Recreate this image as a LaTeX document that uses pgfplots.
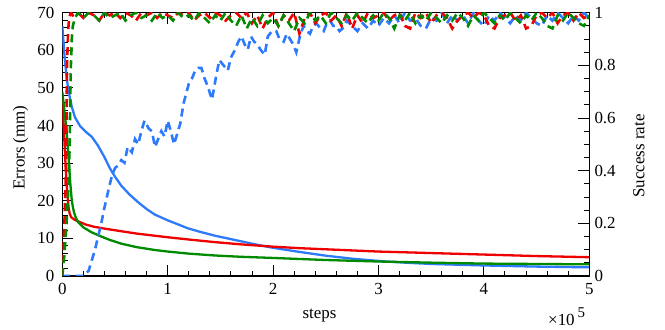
\documentclass[border=0pt]{standalone}
\usepackage{pgfplots}
\pgfplotsset{compat=1.18}
\usepackage{fontspec}
\setmainfont{Liberation Serif}
\definecolor{cblue}{RGB}{45,122,252}
\definecolor{cred}{RGB}{238,0,0}
\definecolor{cgreen}{RGB}{0,138,0}
\pgfplotsset{
  base/.style={
    scale only axis, width=527bp, height=263.3bp,
    xmin=0, xmax=5,
    /pgf/number format/assume math mode=true,
    tick label style={font=\fontsize{17}{20}\selectfont},
    label style={font=\fontsize{17}{20}\selectfont},
    major tick length=11bp, minor tick length=5.5bp,
    tick align=inside,
    every tick/.style={black, line width=1bp},
    axis line style={line width=1.3bp},
  }
}
\begin{document}
\begin{tikzpicture}
\begin{axis}[base,
  ymin=0, ymax=70,
  ytick={0,10,...,70}, minor y tick num=4,
  xtick={0,1,2,3,4,5}, minor x tick num=4,
  ytick pos=left, xtick pos=both,
  yticklabel style={xshift=-4.5bp},
  xticklabel style={yshift=-4bp},
  xlabel={steps}, ylabel={Errors (mm)},
  xlabel style={at={(axis description cs:0.488,-0.152)}, anchor=center},
  ylabel style={at={(axis description cs:-0.0793,0.488)}, anchor=center},
]
\addplot[cblue, line width=2.3bp] coordinates {(0,66.5)(0.02,59)(0.04,53)(0.06,49)(0.09,45)(0.12,42.2)(0.17,39.8)(0.22,38.4)(0.28,37)(0.34,34.6)(0.40,31.6)(0.45,28.7)(0.50,26.4)(0.56,24)(0.64,21.6)(0.72,19.6)(0.80,17.8)(0.88,16.3)(1.0,14.8)(1.1,13.7)(1.19,12.7)(1.3,11.8)(1.45,10.7)(1.6,9.8)(1.7,9.2)(1.85,8.3)(2.0,7.5)(2.25,6.4)(2.5,5.4)(2.75,4.6)(3.0,4.0)(3.25,3.55)(3.5,3.2)(4.0,2.8)(4.5,2.5)(5.0,2.3)};
\addplot[cred, line width=2.3bp] coordinates {(0,47)(0.01,42)(0.02,36)(0.03,30)(0.04,25)(0.05,21)(0.06,18.2)(0.07,16.6)(0.085,15.6)(0.12,14.9)(0.22,13.7)(0.3,13.1)(0.4,12.6)(0.56,11.9)(0.7,11.3)(0.88,10.7)(1.0,10.3)(1.2,9.7)(1.45,9.0)(1.7,8.4)(2.0,7.8)(2.25,7.4)(2.5,7.1)(3.0,6.5)(3.5,6.1)(4.0,5.7)(4.5,5.3)(5.0,5.0)};
\addplot[cgreen, line width=2.3bp] coordinates {(0,49)(0.02,44)(0.04,38.9)(0.063,30)(0.075,25)(0.089,20.4)(0.1,18.4)(0.11,17)(0.13,15.4)(0.15,14.3)(0.2,12.9)(0.28,11.6)(0.36,10.6)(0.45,9.6)(0.56,8.6)(0.7,7.7)(0.88,6.9)(1.0,6.5)(1.2,5.95)(1.45,5.45)(1.7,5.1)(2.0,4.8)(2.5,4.25)(3.0,3.85)(3.5,3.55)(4.0,3.3)(4.5,3.2)(5.0,3.1)};
\end{axis}
\begin{axis}[base,
  ymin=0, ymax=1,
  axis y line*=right, axis x line=none,
  y axis line style={-},
  ytick={0,0.2,...,1}, minor y tick num=3,
  yticklabel style={xshift=1.7bp},
  ylabel={Success rate},
  ylabel style={at={(axis description cs:1.094,0.456)}, anchor=center, rotate=0},
]
\addplot[cblue, line width=2.6bp, dash pattern=on 8bp off 5bp] coordinates {(0,0)(0.05,0)(0.1,0)(0.15,0)(0.2,0)(0.25,0.02)(0.28,0.06)(0.31,0.10)(0.34,0.15)(0.37,0.20)(0.40,0.26)(0.44,0.33)(0.47,0.38)(0.50,0.41)(0.53,0.42)(0.56,0.44)(0.59,0.43)(0.62,0.49)(0.66,0.47)(0.69,0.52)(0.72,0.50)(0.75,0.55)(0.78,0.59)(0.82,0.56)(0.85,0.55)(0.88,0.49)(0.91,0.52)(0.94,0.55)(0.97,0.53)(1.0,0.59)(1.03,0.55)(1.06,0.50)(1.09,0.54)(1.12,0.58)(1.15,0.655)(1.2,0.73)(1.23,0.75)(1.26,0.78)(1.29,0.79)(1.32,0.79)(1.35,0.75)(1.38,0.72)(1.42,0.67)(1.46,0.76)(1.49,0.82)(1.53,0.80)(1.57,0.78)(1.6,0.83)(1.64,0.86)(1.67,0.89)(1.70,0.91)(1.73,0.88)(1.76,0.86)(1.79,0.91)(1.82,0.89)(1.85,0.88)(1.88,0.86)(1.92,0.84)(1.95,0.91)(1.99,0.93)(2.03,0.93)(2.06,0.90)(2.10,0.89)(2.13,0.92)(2.16,0.90)(2.19,0.88)(2.22,0.85)(2.26,0.92)(2.29,0.95)(2.32,0.93)(2.35,0.92)(2.38,0.95)(2.41,0.96)(2.45,0.94)(2.48,0.93)(2.51,0.96)(2.54,0.97)(2.57,0.95)(2.6,0.95)(2.63,0.93)(2.66,0.94)(2.7,0.97)(2.75,0.95)(2.8,0.93)(2.85,0.96)(2.9,0.94)(2.95,0.97)(3.0,0.95)(3.05,0.98)(3.1,0.96)(3.15,0.99)(3.2,0.96)(3.25,1.0)(3.3,0.97)(3.35,0.98)(3.4,0.95)(3.45,0.94)(3.5,0.98)(3.55,0.97)(3.6,1.0)(3.65,0.96)(3.7,0.99)(3.75,0.97)(3.8,0.99)(3.85,0.96)(3.9,1.0)(3.95,0.97)(4.0,0.95)(4.05,0.99)(4.1,0.97)(4.15,1.0)(4.2,0.98)(4.25,0.96)(4.3,0.99)(4.35,0.97)(4.4,1.0)(4.45,0.98)(4.5,0.96)(4.55,0.95)(4.6,0.99)(4.65,0.97)(4.7,1.0)(4.75,0.98)(4.8,0.96)(4.85,0.99)(4.9,0.97)(4.95,1.0)(5.0,0.98)};
\addplot[cred, line width=2.6bp, dash pattern=on 8bp off 5bp] coordinates {(0,0)(0.01,0.12)(0.02,0.2)(0.035,0.4)(0.04,0.6)(0.045,0.8)(0.055,0.93)(0.065,0.98)(0.08,1.0)(0.1,0.99)(0.15,1.0)(0.2,0.98)(0.25,1.0)(0.3,0.99)(0.35,0.97)(0.4,1.0)(0.45,0.99)(0.5,1.0)(0.55,0.98)(0.6,1.0)(0.65,0.99)(0.7,0.97)(0.75,1.0)(0.8,0.99)(0.85,1.0)(0.9,0.98)(0.95,1.0)(1.0,0.99)(1.05,0.98)(1.1,1.0)(1.15,0.99)(1.2,1.0)(1.25,0.97)(1.3,0.99)(1.35,1.0)(1.4,0.98)(1.45,1.0)(1.5,0.99)(1.55,0.97)(1.6,0.99)(1.65,1.0)(1.7,0.98)(1.75,1.0)(1.8,0.96)(1.85,0.99)(1.9,0.94)(1.95,0.98)(2.0,1.0)(2.05,0.95)(2.1,0.99)(2.15,0.97)(2.2,1.0)(2.25,0.92)(2.3,0.98)(2.35,1.0)(2.4,0.96)(2.45,0.99)(2.5,1.0)(2.55,0.97)(2.6,0.99)(2.65,0.95)(2.7,1.0)(2.75,0.94)(2.8,0.99)(2.85,0.96)(2.9,1.0)(2.95,0.98)(3.0,0.99)(3.05,1.0)(3.1,0.97)(3.15,0.99)(3.2,1.0)(3.25,0.95)(3.3,0.94)(3.35,1.0)(3.4,0.98)(3.45,1.0)(3.5,0.96)(3.55,0.99)(3.6,1.0)(3.65,0.98)(3.7,0.94)(3.75,0.97)(3.8,0.99)(3.85,1.0)(3.9,0.98)(3.95,1.0)(4.0,0.99)(4.05,0.95)(4.1,0.94)(4.15,0.98)(4.2,0.99)(4.25,1.0)(4.3,0.97)(4.35,0.99)(4.4,0.94)(4.45,0.95)(4.5,0.99)(4.55,1.0)(4.6,0.98)(4.65,1.0)(4.7,0.96)(4.75,0.99)(4.8,1.0)(4.85,0.97)(4.9,1.0)(4.95,0.98)(5.0,0.99)};
\addplot[cgreen, line width=2.6bp, dash pattern=on 8bp off 5bp] coordinates {(0,0)(0.02,0.08)(0.04,0.2)(0.06,0.35)(0.07,0.5)(0.075,0.65)(0.08,0.78)(0.09,0.9)(0.1,0.95)(0.12,0.98)(0.15,1.0)(0.2,0.98)(0.25,1.0)(0.3,0.99)(0.35,0.97)(0.4,1.0)(0.45,0.98)(0.5,0.99)(0.55,1.0)(0.6,0.97)(0.65,0.99)(0.7,1.0)(0.75,0.98)(0.8,0.99)(0.85,0.97)(0.9,1.0)(0.95,0.98)(1.0,0.99)(1.05,0.97)(1.1,1.0)(1.15,0.98)(1.2,0.99)(1.25,0.97)(1.3,1.0)(1.35,0.98)(1.4,0.96)(1.45,0.99)(1.5,0.97)(1.55,1.0)(1.6,0.97)(1.65,0.95)(1.7,0.99)(1.75,0.94)(1.8,0.98)(1.85,0.95)(1.9,0.99)(1.95,0.96)(2.0,0.98)(2.05,0.95)(2.1,0.99)(2.15,0.96)(2.2,0.93)(2.25,0.98)(2.3,0.96)(2.35,1.0)(2.4,0.97)(2.45,0.99)(2.5,0.96)(2.55,1.0)(2.6,0.98)(2.65,0.96)(2.7,0.99)(2.75,0.97)(2.8,1.0)(2.85,0.98)(2.9,0.96)(2.95,0.99)(3.0,0.97)(3.05,1.0)(3.1,0.98)(3.15,0.94)(3.2,0.99)(3.25,0.97)(3.3,1.0)(3.35,0.96)(3.4,0.99)(3.45,0.97)(3.5,1.0)(3.55,0.98)(3.6,0.96)(3.65,0.99)(3.7,0.97)(3.75,1.0)(3.8,0.98)(3.85,0.95)(3.9,0.99)(3.95,0.97)(4.0,1.0)(4.05,0.98)(4.1,0.96)(4.15,0.99)(4.2,0.97)(4.25,1.0)(4.3,0.98)(4.35,0.96)(4.4,0.99)(4.45,0.97)(4.5,1.0)(4.55,0.98)(4.6,0.95)(4.65,0.94)(4.7,0.99)(4.75,0.97)(4.8,1.0)(4.85,0.98)(4.9,0.96)(4.95,0.95)(5.0,0.99)};
\end{axis}
\node[anchor=base west, font=\fontsize{17}{20}\selectfont, inner sep=0pt] at (485.7bp,-49bp) {×10\hspace{3bp}\raisebox{8bp}{\fontsize{15}{15}\selectfont 5}};
\pgfresetboundingbox
\path[use as bounding box] (-62.3bp,-54bp) rectangle (602.7bp,276bp);
\end{tikzpicture}
\end{document}
